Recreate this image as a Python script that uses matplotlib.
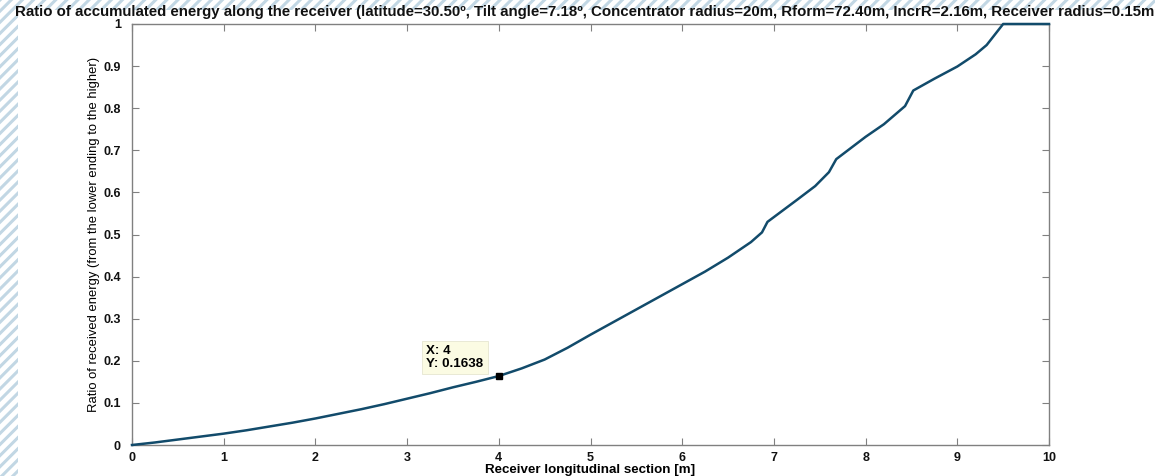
import matplotlib
matplotlib.use("Agg")
import matplotlib.pyplot as plt
from matplotlib.patches import Rectangle

# ---- data ----
x_pos = [0, 0.25, 0.5, 0.75, 1, 1.25, 1.5, 1.75, 2, 2.25, 2.5, 2.75, 3, 3.25,
         3.5, 3.75, 4, 4.25, 4.5, 4.75, 5, 5.25, 5.5, 5.75, 6, 6.25, 6.5, 6.75,
         6.87, 6.93, 7.25, 7.45, 7.6, 7.68, 8.0, 8.2, 8.43, 8.52, 8.75, 9.0,
         9.2, 9.32, 9.5, 10]
ratio = [0, 0.006, 0.013, 0.020, 0.027, 0.035, 0.044, 0.053, 0.063, 0.074,
         0.085, 0.097, 0.110, 0.123, 0.137, 0.150, 0.1638, 0.182, 0.203, 0.231,
         0.262, 0.292, 0.322, 0.352, 0.382, 0.412, 0.445, 0.482, 0.505, 0.530,
         0.582, 0.615, 0.648, 0.679, 0.732, 0.762, 0.805, 0.842, 0.870, 0.899,
         0.928, 0.950, 1.0, 1.0]
tip_x = 4
tip_y = 0.1638
x_ticks = list(range(0, 11))
y_ticks = [0, 0.1, 0.2, 0.3, 0.4, 0.5, 0.6, 0.7, 0.8, 0.9, 1]
y_tick_labels = ["0", "0.1", "0.2", "0.3", "0.4", "0.5", "0.6", "0.7", "0.8", "0.9", "1"]

title = ("Ratio of accumulated energy along the receiver (latitude=30.50º, Tilt angle=7.18º, "
         "Concentrator radius=20m, Rform=72.40m, IncrR=2.16m, Receiver radius=0.15m")
xlabel = "Receiver longitudinal section [m]"
ylabel = "Ratio of received energy (from the lower ending to the higher)"

plt.rcParams['font.family'] = ['Liberation Sans', 'DejaVu Sans']
plt.rcParams['hatch.linewidth'] = 2.2

W, H = 1155, 476
fig = plt.figure(figsize=(W / 100, H / 100), dpi=100, facecolor='white')

# hatched border strips (left and top)
hatch_col = '#c2d7e4'
fig.patches.append(Rectangle((0, 0), 18 / W, 1, transform=fig.transFigure,
                             facecolor='white', edgecolor=hatch_col, linewidth=0,
                             hatch='///', zorder=0))
fig.patches.append(Rectangle((0, 1 - 10 / H), 1, 10 / H, transform=fig.transFigure,
                             facecolor='white', edgecolor=hatch_col, linewidth=0,
                             hatch='///', zorder=0))

ax = fig.add_axes([132 / W, 1 - 445 / H, 917 / W, 421 / H])
ax.plot(x_pos, ratio, color='#124b6b', linewidth=1.8, solid_joinstyle='round',
        clip_on=False, zorder=5)
ax.plot([tip_x], [tip_y], marker='s', color='black', markersize=4,
        linestyle='none', zorder=6)

ax.set_xlim(0, 10)
ax.set_ylim(0, 1)
ax.set_xticks(x_ticks)
ax.set_xticklabels([str(t) for t in x_ticks], fontweight='bold', fontsize=9)
ax.set_yticks(y_ticks)
ax.set_yticklabels(y_tick_labels, fontweight='bold', fontsize=9)
ax.tick_params(axis='x', direction='in', length=5, width=0.8, color='#808080',
               top=True, labelcolor='#111111', pad=5)
ax.tick_params(axis='y', direction='in', length=5, width=0.8, color='#808080',
               right=True, labelcolor='#111111', pad=8)
for s in ax.spines.values():
    s.set_color('#808080')
    s.set_linewidth(1.0)

ax.set_xlabel(xlabel, fontweight='bold', fontsize=9.6, labelpad=0)
ax.set_ylabel(ylabel, fontsize=9.4, labelpad=2)

fig.text(1154 / W, 1 - 12 / H, title, fontweight='bold', fontsize=10.8,
         ha='right', va='center', color='#111111')

# data tip
ax.text(3.21, 0.208, "X: 4\nY: 0.1638", fontsize=9.6, fontweight='bold',
        ha='left', va='center', linespacing=1.05,
        bbox=dict(boxstyle='square,pad=0.35', facecolor='#fbfbe3',
                  edgecolor='#e6e6d0', linewidth=0.6))

fig.savefig('out.png', dpi=100, facecolor='white')
